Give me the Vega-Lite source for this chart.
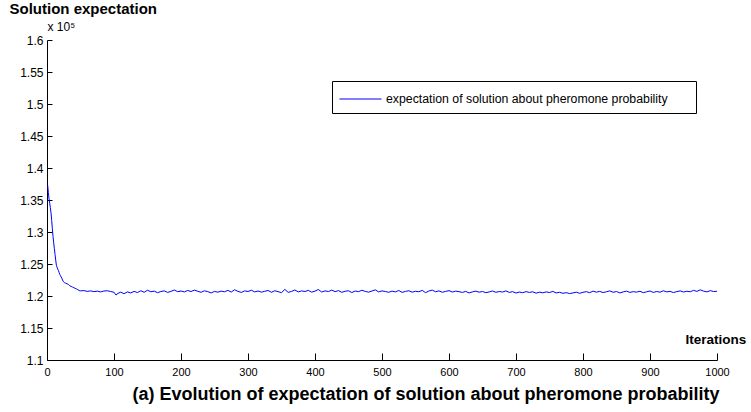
{
"$schema": "https://vega.github.io/schema/vega-lite/v6.json",
"width": 670, "height": 320,
"autosize": {"type": "none"},
"padding": {"left": 47, "top": 40, "right": 34, "bottom": 52},
"background": "white",
"title": {"text": "(a) Evolution of expectation of solution about pheromone probability", "orient": "bottom", "anchor": "middle", "dx": 44, "offset": 9, "font": "Liberation Sans", "fontSize": 18, "fontWeight": "bold", "color": "black"},
"data": {"values": [
{"it":1,"v":1.373},{"it":2,"v":1.362},{"it":3,"v":1.352},{"it":4,"v":1.345},{"it":5,"v":1.338},{"it":6,"v":1.330},{"it":7,"v":1.318},{"it":8,"v":1.305},{"it":9,"v":1.293},{"it":10,"v":1.283},
{"it":11,"v":1.274},{"it":12,"v":1.265},{"it":13,"v":1.256},{"it":14,"v":1.248},{"it":15,"v":1.245},{"it":16,"v":1.242},{"it":17,"v":1.240},{"it":18,"v":1.237},{"it":19,"v":1.234},{"it":20,"v":1.232},
{"it":22,"v":1.228},{"it":24,"v":1.223},{"it":26,"v":1.221},{"it":28,"v":1.220},{"it":30,"v":1.219},{"it":32,"v":1.218},{"it":34,"v":1.216},{"it":36,"v":1.215},{"it":38,"v":1.214},{"it":40,"v":1.213},
{"it":42,"v":1.212},{"it":44,"v":1.211},{"it":46,"v":1.210},{"it":48,"v":1.2085},{"it":50,"v":1.208},
{"it":55,"v":1.2085},{"it":60,"v":1.2072},{"it":65,"v":1.2080},{"it":70,"v":1.2068},{"it":75,"v":1.2076},{"it":80,"v":1.2064},{"it":85,"v":1.2078},{"it":90,"v":1.2082},{"it":95,"v":1.2070},{"it":100,"v":1.2058},
{"it":103,"v":1.2015},{"it":106,"v":1.2042},{"it":110,"v":1.2060},{"it":115,"v":1.2036},{"it":120,"v":1.2064},{"it":125,"v":1.2048},{"it":130,"v":1.2072},{"it":135,"v":1.2054},{"it":140,"v":1.2082},{"it":145,"v":1.2058},
{"it":150,"v":1.2090},{"it":155,"v":1.2066},{"it":160,"v":1.2076},{"it":165,"v":1.2052},{"it":170,"v":1.2070},{"it":175,"v":1.2080},{"it":180,"v":1.2056},{"it":185,"v":1.2072},{"it":190,"v":1.2094},{"it":195,"v":1.2068},
{"it":200,"v":1.2078},{"it":205,"v":1.2064},{"it":210,"v":1.2086},{"it":215,"v":1.2070},{"it":220,"v":1.2092},{"it":225,"v":1.2074},{"it":230,"v":1.2058},{"it":235,"v":1.2082},{"it":240,"v":1.2068},{"it":245,"v":1.2048},
{"it":250,"v":1.2072},{"it":255,"v":1.2060},{"it":260,"v":1.2076},{"it":265,"v":1.2066},{"it":270,"v":1.2088},{"it":275,"v":1.2062},{"it":280,"v":1.2098},{"it":285,"v":1.2072},{"it":290,"v":1.2056},{"it":295,"v":1.2080},
{"it":300,"v":1.2070},{"it":305,"v":1.2090},{"it":310,"v":1.2064},{"it":315,"v":1.2078},{"it":320,"v":1.2060},{"it":325,"v":1.2074},{"it":330,"v":1.2086},{"it":335,"v":1.2058},{"it":340,"v":1.2082},{"it":345,"v":1.2068},
{"it":350,"v":1.2052},{"it":355,"v":1.2104},{"it":360,"v":1.2056},{"it":365,"v":1.2072},{"it":370,"v":1.2094},{"it":375,"v":1.2064},{"it":380,"v":1.2080},{"it":385,"v":1.2070},{"it":390,"v":1.2088},{"it":395,"v":1.2060},
{"it":400,"v":1.2076},{"it":405,"v":1.2102},{"it":410,"v":1.2062},{"it":415,"v":1.2080},{"it":420,"v":1.2070},{"it":425,"v":1.2092},{"it":430,"v":1.2068},{"it":435,"v":1.2084},{"it":440,"v":1.2058},{"it":445,"v":1.2074},
{"it":450,"v":1.2082},{"it":455,"v":1.2054},{"it":460,"v":1.2078},{"it":465,"v":1.2068},{"it":470,"v":1.2090},{"it":475,"v":1.2072},{"it":480,"v":1.2060},{"it":485,"v":1.2078},{"it":490,"v":1.2096},{"it":495,"v":1.2064},
{"it":500,"v":1.2080},{"it":505,"v":1.2070},{"it":510,"v":1.2058},{"it":515,"v":1.2076},{"it":520,"v":1.2064},{"it":525,"v":1.2086},{"it":530,"v":1.2056},{"it":535,"v":1.2072},{"it":540,"v":1.2082},{"it":545,"v":1.2060},
{"it":550,"v":1.2074},{"it":555,"v":1.2066},{"it":560,"v":1.2088},{"it":565,"v":1.2052},{"it":570,"v":1.2078},{"it":575,"v":1.2092},{"it":580,"v":1.2066},{"it":585,"v":1.2080},{"it":590,"v":1.2058},{"it":595,"v":1.2072},
{"it":600,"v":1.2084},{"it":605,"v":1.2062},{"it":610,"v":1.2076},{"it":615,"v":1.2068},{"it":620,"v":1.2056},{"it":625,"v":1.2072},{"it":630,"v":1.2048},{"it":635,"v":1.2064},{"it":640,"v":1.2076},{"it":645,"v":1.2060},
{"it":650,"v":1.2070},{"it":655,"v":1.2052},{"it":660,"v":1.2064},{"it":665,"v":1.2078},{"it":670,"v":1.2058},{"it":675,"v":1.2070},{"it":680,"v":1.2062},{"it":685,"v":1.2080},{"it":690,"v":1.2056},{"it":695,"v":1.2068},
{"it":700,"v":1.2046},{"it":705,"v":1.2062},{"it":710,"v":1.2052},{"it":715,"v":1.2068},{"it":720,"v":1.2056},{"it":725,"v":1.2066},{"it":730,"v":1.2044},{"it":735,"v":1.2060},{"it":740,"v":1.2050},{"it":745,"v":1.2064},
{"it":750,"v":1.2054},{"it":755,"v":1.2072},{"it":760,"v":1.2048},{"it":765,"v":1.2058},{"it":770,"v":1.2042},{"it":775,"v":1.2052},{"it":780,"v":1.2038},{"it":785,"v":1.2048},{"it":790,"v":1.2060},{"it":795,"v":1.2042},
{"it":800,"v":1.2058},{"it":805,"v":1.2068},{"it":810,"v":1.2052},{"it":815,"v":1.2076},{"it":820,"v":1.2060},{"it":825,"v":1.2072},{"it":830,"v":1.2054},{"it":835,"v":1.2066},{"it":840,"v":1.2080},{"it":845,"v":1.2058},
{"it":850,"v":1.2070},{"it":855,"v":1.2048},{"it":860,"v":1.2064},{"it":865,"v":1.2076},{"it":870,"v":1.2056},{"it":875,"v":1.2068},{"it":880,"v":1.2060},{"it":885,"v":1.2074},{"it":890,"v":1.2052},{"it":895,"v":1.2066},
{"it":900,"v":1.2078},{"it":905,"v":1.2056},{"it":910,"v":1.2070},{"it":915,"v":1.2060},{"it":920,"v":1.2082},{"it":925,"v":1.2064},{"it":930,"v":1.2072},{"it":935,"v":1.2054},{"it":940,"v":1.2068},{"it":945,"v":1.2080},
{"it":950,"v":1.2062},{"it":955,"v":1.2074},{"it":960,"v":1.2066},{"it":965,"v":1.2088},{"it":970,"v":1.2072},{"it":975,"v":1.2096},{"it":980,"v":1.2076},{"it":985,"v":1.2064},{"it":990,"v":1.2084},{"it":995,"v":1.2070},
{"it":1000,"v":1.2074}
]},
"layer": [
{"mark": {"type": "line", "strokeWidth": 1},
 "encoding": {
  "x": {"field": "it", "type": "quantitative", "scale": {"domain": [0, 1000], "nice": false},
        "axis": {"values": [0,100,200,300,400,500,600,700,800,900,1000], "format": "d", "tickSize": -7, "labelPadding": 13, "labelFlush": false, "labelFontSize": 11,
                 "title": "Iterations", "titleX": 638, "titleY": -17, "titleAlign": "left", "titleBaseline": "alphabetic", "titleFontSize": 13.5, "titleFontWeight": "bold"}},
  "y": {"field": "v", "type": "quantitative", "scale": {"domain": [1.1, 1.6], "nice": false, "zero": false},
        "axis": {"values": [1.1,1.15,1.2,1.25,1.3,1.35,1.4,1.45,1.5,1.55,1.6], "format": "~g", "tickSize": -5, "labelPadding": 9, "labelFlush": false, "labelFontSize": 12,
                 "title": "Solution expectation", "titleAngle": 0, "titleX": -38, "titleY": -27, "titleAlign": "left", "titleBaseline": "alphabetic", "titleFontSize": 15, "titleFontWeight": "bold"}},
  "color": {"datum": "expectation of solution about pheromone probability", "type": "nominal", "scale": {"range": ["#0000ff"]},
            "legend": {"orient": "none", "legendX": 285, "legendY": 41, "title": null,
                       "labelExpr": "datum.label + '\u00a0\u00a0\u00a0\u00a0\u00a0\u00a0\u200b'"}}
 }},
{"mark": {"type": "line", "strokeOpacity": 0},
 "encoding": {
  "x": {"field": "it", "type": "quantitative"},
  "y": {"field": "v", "type": "quantitative",
        "axis": {"orient": "left", "domain": false, "ticks": false, "labels": false, "title": "x 10⁵", "titleAngle": 0, "titleX": 0, "titleY": -10, "titleAlign": "left", "titleBaseline": "alphabetic", "titleFontSize": 12, "titleFontWeight": "normal"}}
 }}
],
"resolve": {"axis": {"y": "independent"}},
"config": {
 "view": {"stroke": null},
 "axis": {"grid": false, "labelFont": "Liberation Sans", "labelColor": "black", "domainColor": "black", "tickColor": "black", "titleFont": "Liberation Sans", "titleColor": "black"},
 "legend": {"strokeColor": "black", "fillColor": "white", "padding": 7, "symbolType": "M-1,0H3", "symbolSize": 441, "symbolStrokeWidth": 1, "symbolStrokeColor": "#0000ff", "symbolFillColor": "transparent", "labelFont": "Liberation Sans", "labelFontSize": 12.3, "labelColor": "black", "labelOffset": 25, "labelLimit": 450}
}
}
